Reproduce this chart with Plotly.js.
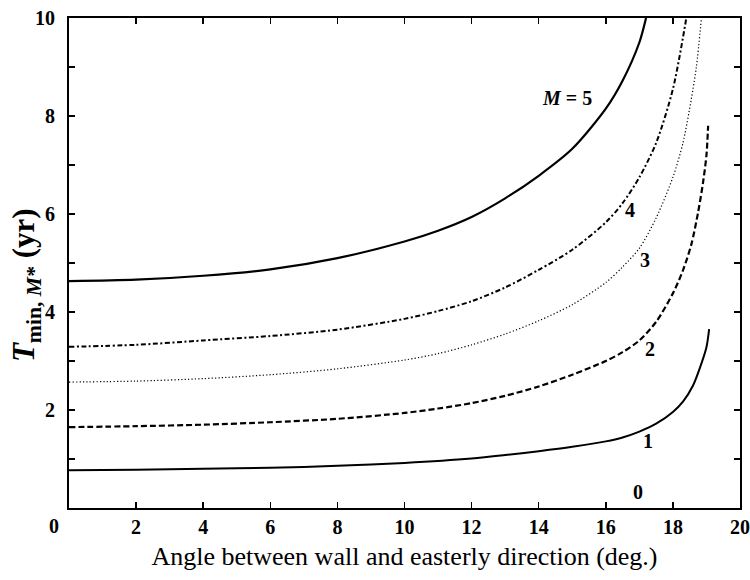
<!DOCTYPE html>
<html>
<head>
<meta charset="utf-8">
<script src="https://cdn.plot.ly/plotly-3.0.1.min.js"></script>
<style>html,body{margin:0;padding:0;background:#fff;}#chart{width:750px;height:580px;}</style>
</head>
<body>
<div id="chart"></div>
<script>
// Angle (deg.) and T_min,M* (yr) for each M
const x1 = [0, 2, 4, 6, 8, 10, 12, 13, 14, 15, 16, 16.5, 17, 17.5, 18, 18.3, 18.6, 18.8, 19, 19.08];
const y1 = [0.77, 0.78, 0.80, 0.82, 0.86, 0.92, 1.01, 1.08, 1.16, 1.25, 1.36, 1.44, 1.56, 1.72, 1.96, 2.17, 2.5, 2.85, 3.28, 3.65];

const x2 = [0, 2, 4, 6, 8, 10, 11, 12, 13, 14, 15, 16, 16.5, 17, 17.5, 18, 18.3, 18.55, 18.75, 18.9, 19.0, 19.05];
const y2 = [1.65, 1.67, 1.70, 1.75, 1.82, 1.94, 2.03, 2.14, 2.29, 2.48, 2.72, 3.0, 3.18, 3.42, 3.80, 4.38, 4.85, 5.38, 6.03, 6.65, 7.2, 7.8];

const x3 = [0, 2, 4, 6, 8, 10, 11, 12, 13, 14, 15, 16, 16.5, 17, 17.5, 18, 18.3, 18.55, 18.7, 18.85];
const y3 = [2.57, 2.59, 2.64, 2.72, 2.84, 3.02, 3.15, 3.33, 3.55, 3.82, 4.15, 4.6, 4.92, 5.3, 5.92, 6.75, 7.45, 8.35, 9.0, 10.0];

const x4 = [0, 2, 4, 6, 8, 10, 11, 12, 13, 14, 15, 16, 16.5, 17, 17.5, 18, 18.4];
const y4 = [3.29, 3.33, 3.42, 3.51, 3.64, 3.86, 4.02, 4.22, 4.5, 4.86, 5.27, 5.83, 6.22, 6.75, 7.45, 8.55, 10.0];

const x5 = [0, 2, 4, 6, 8, 10, 11, 12, 13, 14, 15, 16, 16.5, 17, 17.2];
const y5 = [4.63, 4.66, 4.74, 4.87, 5.1, 5.44, 5.66, 5.94, 6.32, 6.78, 7.33, 8.15, 8.72, 9.5, 10.0];

// curve labels
const labelText = ["<i>M</i> = 5", "4", "3", "2", "1", "0"];
const labelX = [14.84, 16.72, 17.17, 17.32, 17.26, 16.96];
const labelY = [8.37, 6.08, 5.06, 3.24, 1.37, 0.33];

const xTicks = [2, 4, 6, 8, 10, 12, 14, 16, 18, 20];
const yTicks = [2, 4, 6, 8, 10];

const serif = "Liberation Serif, Times New Roman, serif";

const traces = [
  {x: x1, y: y1, mode: "lines", line: {color: "#000", width: 2, dash: "solid", shape: "spline", smoothing: 0.8}},
  {x: x2, y: y2, mode: "lines", line: {color: "#000", width: 2.2, dash: "6px,3px", shape: "spline", smoothing: 0.8}},
  {x: x3, y: y3, mode: "lines", line: {color: "#000", width: 1.2, dash: "1.2px,2.2px", shape: "spline", smoothing: 0.8}},
  {x: x4, y: y4, mode: "lines", line: {color: "#000", width: 2, dash: "5px,2.5px,2px,2.5px", shape: "spline", smoothing: 0.8}},
  {x: x5, y: y5, mode: "lines", line: {color: "#000", width: 2.2, dash: "solid", shape: "spline", smoothing: 0.8}}
];

const annotations = labelText.map((t, i) => ({
  x: labelX[i], y: labelY[i], xref: "x", yref: "y", text: t, showarrow: false,
  font: {family: serif, size: 20, color: "#000", weight: "bold"}
}));
annotations.push({
  x: -0.064, y: 0.455, xref: "paper", yref: "paper", xanchor: "center", yanchor: "middle",
  textangle: -90, showarrow: false,
  text: "<i>T</i><sub>min, <i>M</i>*</sub> (yr)",
  font: {family: serif, size: 31, color: "#000", weight: "bold"}
});
annotations.push({
  x: 0, y: 0, xref: "x", yref: "y", showarrow: false, text: "<b>0</b>",
  xshift: -15, yshift: -18,
  font: {family: serif, size: 20, color: "#000"}
});

const layout = {
  width: 750, height: 580,
  margin: {l: 69, r: 10, t: 18, b: 72},
  paper_bgcolor: "#fff", plot_bgcolor: "#fff",
  showlegend: false,
  xaxis: {
    range: [0, 20], tickvals: xTicks, ticktext: xTicks.map(String),
    ticks: "inside", ticklen: 6, tickwidth: 1.5, tickcolor: "#000",
    showline: true, linecolor: "#000", linewidth: 2, mirror: "ticks",
    showgrid: false, zeroline: false,
    tickfont: {family: serif, size: 20, color: "#000", weight: "bold"},
    title: {text: "Angle between wall and easterly direction (deg.)", standoff: 10,
            font: {family: serif, size: 26, color: "#000"}}
  },
  yaxis: {
    range: [0, 10], tickvals: yTicks, ticktext: yTicks.map(String),
    ticks: "inside", ticklen: 6, tickwidth: 1.5, tickcolor: "#000",
    ticklabelstandoff: 8,
    minor: {dtick: 1, ticks: "inside", ticklen: 6, tickwidth: 1.5, tickcolor: "#000", showgrid: false},
    showline: true, linecolor: "#000", linewidth: 2, mirror: "ticks",
    showgrid: false, zeroline: false,
    tickfont: {family: serif, size: 20, color: "#000", weight: "bold"}
  },
  annotations: annotations
};

Plotly.newPlot("chart", traces, layout, {displayModeBar: false, staticPlot: true});
</script>
</body>
</html>
